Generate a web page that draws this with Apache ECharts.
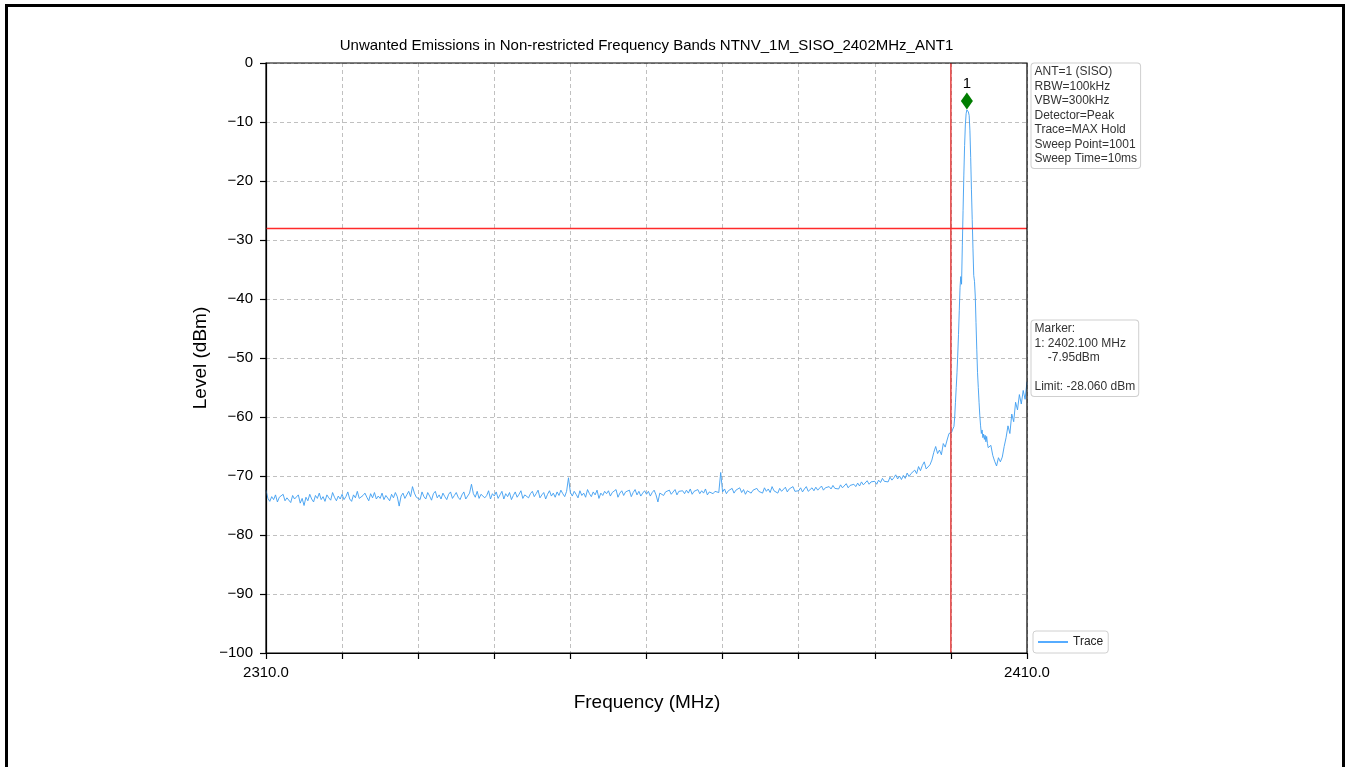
<!DOCTYPE html>
<html>
<head>
<meta charset="utf-8">
<script src="https://cdn.jsdelivr.net/npm/echarts@6/dist/echarts.min.js"></script>
<style>
html,body{margin:0;padding:0;background:#fff;}
#chart{width:1349px;height:767px;}
</style>
</head>
<body>
<div id="chart"></div>
<script>
// ---- DATA ----
const titleText = 'Unwanted Emissions in Non-restricted Frequency Bands NTNV_1M_SISO_2402MHz_ANT1';
const xTickLabels = ['2310.0', '2410.0'];
const yTicks = [0, -10, -20, -30, -40, -50, -60, -70, -80, -90, -100];
// Segment A: 2310.00 .. 2399.75 MHz, step 0.25 MHz
const segAStart = 2310.0, segAStep = 0.25;
const levelsA = [
  -72.4,-73.8,-74.3,-73.5,-74.0,-73.2,-74.4,-73.6,-73.9,-73.1,-74.2,-73.7,-73.4,-74.5,-73.3,-73.9,-74.1,-73.2,-74.6,-73.8,
  -75.0,-73.6,-74.2,-73.1,-73.9,-74.4,-73.3,-73.8,-72.9,-74.0,-73.5,-74.3,-73.2,-73.7,-74.1,-72.8,-73.6,-74.2,-73.4,-73.9,
  -73.1,-74.0,-73.5,-72.7,-73.9,-74.3,-73.2,-73.7,-72.6,-73.8,-74.1,-73.3,-72.9,-73.6,-74.2,-73.0,-73.7,-72.8,-73.9,-73.4,
  -73.8,-72.9,-74.0,-73.3,-73.6,-74.2,-73.1,-73.7,-72.8,-73.5,-75.1,-73.4,-72.9,-73.8,-73.2,-72.6,-73.5,-71.8,-72.9,-73.6,
  -73.3,-74.0,-72.7,-73.5,-73.9,-72.8,-73.4,-74.1,-73.0,-72.6,-73.7,-73.2,-73.9,-72.9,-73.5,-74.0,-73.1,-72.7,-73.8,-73.3,
  -72.8,-73.6,-74.0,-73.2,-72.7,-73.9,-73.4,-72.9,-71.4,-73.0,-73.6,-72.6,-73.8,-73.1,-72.8,-73.7,-73.3,-72.5,-73.9,-73.0,
  -73.4,-72.7,-73.8,-73.2,-72.6,-73.9,-73.0,-73.5,-72.8,-74.0,-73.3,-72.7,-73.6,-73.1,-72.5,-73.8,-73.2,-72.9,-73.7,-73.0,
  -72.6,-73.5,-73.0,-72.4,-73.7,-73.2,-72.8,-73.9,-73.1,-72.5,-73.4,-72.9,-73.6,-72.7,-73.3,-72.4,-73.0,-73.5,-72.6,-70.3,
  -72.8,-73.4,-72.6,-73.1,-73.7,-72.5,-73.3,-72.9,-73.6,-72.3,-73.0,-73.5,-72.7,-73.2,-72.4,-73.8,-72.9,-73.3,-72.6,-73.0,
  -72.5,-73.4,-72.8,-73.1,-72.3,-73.6,-72.9,-72.5,-73.3,-72.7,-73.0,-72.4,-73.5,-72.8,-72.3,-73.2,-72.6,-73.4,-72.9,-72.5,
  -73.1,-72.6,-73.4,-72.8,-72.4,-73.2,-74.4,-72.9,-72.6,-73.3,-72.7,-73.0,-72.4,-73.1,-72.8,-72.3,-73.2,-72.6,-72.9,-72.5,
  -73.0,-72.4,-72.9,-72.2,-73.1,-72.6,-72.8,-72.3,-73.0,-72.5,-72.9,-72.2,-73.2,-72.7,-72.4,-73.0,-72.6,-72.3,-72.8,-69.4,
  -72.7,-72.2,-73.0,-72.5,-72.8,-72.1,-72.9,-72.4,-72.6,-72.0,-72.8,-72.3,-73.1,-72.5,-72.2,-72.9,-72.4,-72.7,-72.1,-72.6,
  -72.3,-72.9,-72.0,-72.6,-72.2,-72.8,-71.8,-72.5,-72.3,-72.9,-72.1,-72.6,-72.4,-71.9,-72.7,-72.2,-72.5,-71.8,-72.6,-72.3,
  -72.5,-72.0,-72.7,-72.2,-71.8,-72.6,-72.3,-72.0,-72.5,-71.9,-72.4,-72.1,-71.7,-72.4,-72.0,-72.3,-71.8,-72.2,-71.6,-72.1,
  -71.8,-72.2,-71.5,-72.0,-71.7,-71.3,-72.0,-71.6,-71.9,-71.4,-71.8,-71.2,-71.7,-71.0,-71.5,-71.3,-70.8,-71.4,-71.0,-71.3,
  -70.9,-71.4,-70.7,-71.1,-70.4,-70.9,-70.6,-71.0,-70.2,-70.7,-70.3,-69.8,-70.5,-70.0,-70.6,-69.9,-70.4,-69.5,-70.1,-69.6,
  -69.9,-69.0,-69.6,-68.4,-69.1,-68.2,-67.6,-68.8,-69.0,-68.1,-67.3,-66.0,-65.0,-66.2,-65.6,-66.4,-64.5,-65.1,-63.9,-62.8
];
// Segment B: 2400.0 .. 2404.9 MHz, step 0.1 MHz
const segBStart = 2400.0, segBStep = 0.1;
const levelsB = [
  -62.5,-62.6,-62.2,-62.0,-61.6,-60.0,-57.5,-55.0,-52.5,-49.5,
  -46.0,-42.0,-38.0,-36.2,-37.5,-31.0,-25.0,-19.0,-14.0,-10.5,
  -8.6,-7.95,-8.1,-8.3,-8.9,-11.5,-16.0,-21.5,-26.5,-31.5,
  -36.0,-37.0,-39.5,-44.0,-48.5,-52.5,-55.0,-57.5,-59.8,-61.5,
  -62.8,-62.2,-63.5,-62.9,-63.8,-63.1,-64.2,-63.3,-64.5,-65.2
];
// Segment C: 2405.0 .. 2410.0 MHz, step 0.25 MHz
const segCStart = 2405.0, segCStep = 0.25;
const levelsC = [
  -65.5,-64.8,-66.5,-67.5,-68.3,-66.9,-67.6,-66.8,-65.0,-63.5,
  -61.5,-62.8,-59.5,-60.8,-57.5,-58.8,-56.2,-57.8,-55.5,-57.0,-54.0
];
const markerFreq = 2402.1;
const markerLevel = -7.95;
const limitLevel = -28.06;
const bandEdge = 2400.0;
const infoLines = ['ANT=1 (SISO)','RBW=100kHz','VBW=300kHz','Detector=Peak','Trace=MAX Hold','Sweep Point=1001','Sweep Time=10ms'];
const markerLines = ['Marker:','1: 2402.100 MHz','    -7.95dBm','','Limit: -28.060 dBm'];

// ---- BUILD ----
function seg(start, step, arr) {
  return arr.map((v, i) => [+(start + step * i).toFixed(3), v]);
}
const traceData = [].concat(seg(segAStart, segAStep, levelsA), seg(segBStart, segBStep, levelsB), seg(segCStart, segCStep, levelsC));

const FONT = "'Liberation Sans', Arial, sans-serif";
const chart = echarts.init(document.getElementById('chart'), null, {renderer: 'canvas'});
const minus = s => String(s).replace('-', '\u2212');

chart.setOption({
  animation: false,
  backgroundColor: '#ffffff',
  grid: {left: 266, top: 63, right: 322, bottom: 114, show: false},
  xAxis: {
    type: 'value', min: 2310, max: 2410, interval: 10,
    axisLine: {show: true, onZero: false, lineStyle: {color: '#000', width: 1.2}},
    axisTick: {show: true, inside: false, length: 6, lineStyle: {color: '#000', width: 1.2}},
    axisLabel: {
      show: true, showMinLabel: true, showMaxLabel: true, margin: 12,
      color: '#000', fontSize: 15, fontFamily: FONT,
      formatter: v => (v === 2310 ? xTickLabels[0] : (v === 2410 ? xTickLabels[1] : ''))
    },
    splitLine: {show: true, lineStyle: {color: '#b0b0b0', type: [4, 3], width: 0.8}}
  },
  yAxis: {
    type: 'value', min: -100, max: 0, interval: 10,
    axisLine: {show: true, onZero: false, lineStyle: {color: '#000', width: 1.2}},
    axisTick: {show: true, inside: false, length: 6, lineStyle: {color: '#000', width: 1.2}},
    axisLabel: {color: '#000', fontSize: 15, fontFamily: FONT, margin: 13,
      formatter: v => (yTicks.indexOf(v) >= 0 ? minus(v) : '')},
    splitLine: {show: true, lineStyle: {color: '#b0b0b0', type: [4, 3], width: 0.8}}
  },
  legend: {
    show: true, left: 1033, top: 631, orient: 'vertical',
    data: [{name: 'Trace', icon: 'path://M0,0 L40,0 L40,2 L0,2 Z'}],
    itemWidth: 30, itemHeight: 1.5, itemGap: 4,
    borderColor: '#d0d0d0', borderWidth: 1, borderRadius: 3,
    padding: [5, 5, 5, 5],
    backgroundColor: '#fff',
    textStyle: {color: '#222', fontSize: 12, fontFamily: FONT}
  },
  series: [
    {
      name: 'Trace', type: 'line', data: traceData, showSymbol: false, symbol: 'none',
      lineStyle: {color: '#3d9df0', width: 0.9}, itemStyle: {color: '#1e90ff'},
      z: 3
    },
    {
      name: 'BandEdge', type: 'line', data: [[bandEdge, -100], [bandEdge, 0]],
      showSymbol: false, symbol: 'none', silent: true, z: 4,
      lineStyle: {color: '#e02020', width: 1.3}
    },
    {
      name: 'Limit', type: 'line', data: [[2310, limitLevel], [2410, limitLevel]],
      showSymbol: false, symbol: 'none', silent: true, z: 4,
      lineStyle: {color: '#ff2a2a', width: 1.5}
    },
    {
      name: 'Marker', type: 'scatter', data: [[markerFreq, markerLevel]],
      symbol: 'diamond', symbolSize: [12, 17], symbolOffset: [0, -9],
      itemStyle: {color: '#007d00', opacity: 1}, z: 5,
      label: {show: true, formatter: '1', position: 'top', distance: 1, color: '#000', fontSize: 15, fontFamily: FONT}
    }
  ],
  graphic: [
    {type: 'rect', silent: true, shape: {x: 6.5, y: 5.5, width: 1337, height: 820},
      style: {fill: 'none', stroke: '#000', lineWidth: 3}},
    {type: 'rect', silent: true, z: 10, shape: {x: 266, y: 63, width: 761, height: 590},
      style: {fill: 'none', stroke: '#000', lineWidth: 1.2}},
    {type: 'text', x: 646.5, y: 46, silent: true,
      style: {text: titleText, font: '15px ' + FONT, fill: '#000', textAlign: 'center', textVerticalAlign: 'middle'}},
    {type: 'text', x: 647, y: 703, silent: true,
      style: {text: 'Frequency (MHz)', font: '19px ' + FONT, fill: '#000', textAlign: 'center', textVerticalAlign: 'middle'}},
    {type: 'text', x: 201, y: 358, rotation: Math.PI / 2, silent: true,
      style: {text: 'Level (dBm)', font: '19px ' + FONT, fill: '#000', textAlign: 'center', textVerticalAlign: 'middle'}},
    {type: 'text', x: 1031.5, y: 63.5, silent: true,
      style: {text: infoLines.join('\n'), font: '12px ' + FONT, fill: '#333', lineHeight: 14.5,
        backgroundColor: '#fff', borderColor: '#cfcfcf', borderWidth: 1, borderRadius: 3, padding: [1, 3, 2, 3]}},
    {type: 'text', x: 1031.5, y: 320.5, silent: true,
      style: {text: markerLines.join('\n'), font: '12px ' + FONT, fill: '#333', lineHeight: 14.5,
        backgroundColor: '#fff', borderColor: '#cfcfcf', borderWidth: 1, borderRadius: 3, padding: [1, 3, 2, 3]}}
  ]
});
</script>
</body>
</html>
